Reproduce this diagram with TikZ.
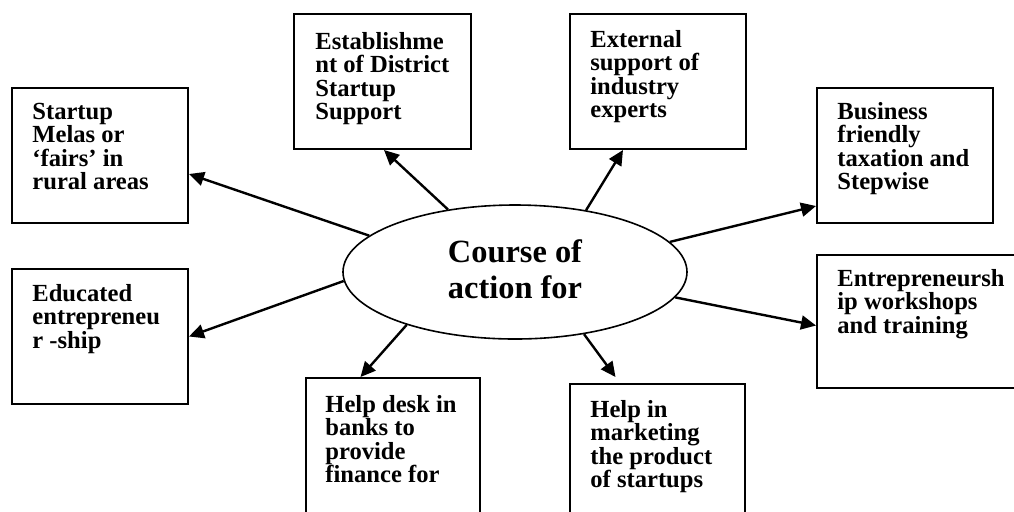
\documentclass[tikz,border=0pt]{standalone}
\usepackage{fontspec}
\setmainfont{Liberation Serif}
\usetikzlibrary{arrows.meta,shapes.geometric}
\begin{document}
\begin{tikzpicture}[x=0.5pt,y=-0.5pt,
  box/.style={draw,line width=1pt,rectangle,inner sep=0pt,anchor=north west},
  boxtext/.style={anchor=north west,inner sep=0pt,align=left,
    font=\fontsize{12.3pt}{11.65pt}\selectfont\bfseries},
  hub/.style={draw,line width=0.8pt,ellipse,inner sep=0pt,
    minimum width=172pt,minimum height=67pt},
  hubtext/.style={anchor=north,inner sep=0pt,align=center,
    font=\fontsize{16.2pt}{18pt}\selectfont\bfseries},
  link/.style={line width=1.2pt,-{Triangle[length=7.5pt,width=7pt]}}]
\clip (0,0) rectangle (1014,511);
\fill[white] (0,0) rectangle (1014,511);
\newcommand{\fl}{\rule{0pt}{9pt}}

% central ellipse
\node[hub] (hub) at (515,272) {};
\node[hubtext] (hubt) at (515,238) {\rule{0pt}{12pt}Course of\\action for};

% surrounding boxes
\node[box,minimum width=88pt,minimum height=67.5pt] (b1) at (11,87) {};
\node[box,minimum width=88.5pt,minimum height=67.5pt] (b2) at (293,13) {};
\node[box,minimum width=88pt,minimum height=67.5pt] (b3) at (569,13) {};
\node[box,minimum width=88pt,minimum height=67.5pt] (b4) at (816,87) {};
\node[box,minimum width=110pt,minimum height=66.5pt] (b5) at (816,254) {};
\node[box,minimum width=88pt,minimum height=67.5pt] (b6) at (11,268) {};
\node[box,minimum width=87pt,minimum height=80pt] (b7) at (305,377) {};
\node[box,minimum width=87.5pt,minimum height=80pt] (b8) at (569,383) {};

% box texts
\node[boxtext] (t1) at ([shift={(10.5pt,-7pt)}]b1.north west)
  {\fl Startup\\Melas or\\‘fairs’ in\\rural areas};
\node[boxtext] (t2) at ([shift={(11pt,-9pt)}]b2.north west)
  {\fl Establishme\\nt of District\\Startup\\Support};
\node[boxtext] (t3) at ([shift={(10.5pt,-8pt)}]b3.north west)
  {\fl External\\support of\\industry\\experts};
\node[boxtext] (t4) at ([shift={(10.5pt,-7pt)}]b4.north west)
  {\fl Business\\friendly\\taxation and\\Stepwise};
\node[boxtext] (t5) at ([shift={(10.5pt,-7pt)}]b5.north west)
  {\fl Entrepreneursh\\ip workshops\\and training};
\node[boxtext] (t6) at ([shift={(10.5pt,-7.5pt)}]b6.north west)
  {\fl Educated\\entrepreneu\\r -ship};
\node[boxtext] (t7) at ([shift={(10pt,-8.5pt)}]b7.north west)
  {\fl Help desk in\\banks to\\provide\\finance for};
\node[boxtext] (t8) at ([shift={(10.5pt,-8pt)}]b8.north west)
  {\fl Help in\\marketing\\the product\\of startups};

% connectors
\draw[link] (hub.166.4) -- ([yshift=-9.25pt]b1.east);
\draw[link] (hub.137.6) -- ([xshift=0.75pt]b2.south);
\draw[link] (hub.41.5) -- ([xshift=-17.5pt]b3.south);
\draw[link] (hub.11.7) -- ([yshift=-25.25pt]b4.west);
\draw[link] (hub.-9.5) -- ([yshift=-2pt]b5.west);
\draw[link] (hub.183.7) -- (b6.east);
\draw[link] (hub.206.8) -- ([xshift=-16.25pt]b7.north);
\draw[link] (hub.318.4) -- ([shift={(-21pt,3pt)}]b8.north);
\end{tikzpicture}
\end{document}
